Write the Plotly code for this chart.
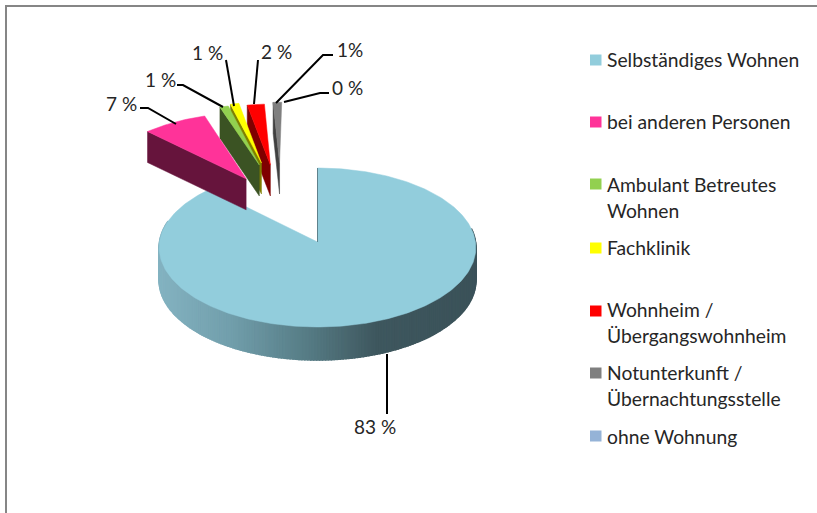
import math
import plotly.graph_objects as go

# ---- data ----
categories = ["Selbständiges Wohnen", "bei anderen Personen", "Ambulant Betreutes Wohnen",
              "Fachklinik", "Wohnheim / Übergangswohnheim",
              "Notunterkunft / Übernachtungsstelle", "ohne Wohnung"]
values = [83, 7, 1, 1, 2, 1, 0]
value_labels = ["83 %", "7 %", "1 %", "1 %", "2 %", "1%", "0 %"]

# ---- style ----
top_colors = ["#92CDDC", "#FF3399", "#92D050", "#FFFF00", "#FF0000", "#7F7F7F", "#95B3D7"]
wall_colors = ["#4F7A85", "#66143C", "#3B5323", "#7F7F00", "#7F0000", "#404040", "#505F75"]
TEXT = "#262626"
FONT = "Lato"

# ---- projection (perspective view of the unit disc, in pixels) ----
CX, CY = 317.5, 242
SX, SY, PERSP = 158, 79.1, 0.0692
DEPTH = 33
# how far each slice is pulled out of the disc (right, toward viewer), and its drawn radius
pull = [(0, 0), (-0.478, -0.845), (-0.395, -1.044), (-0.381, -1.073),
        (-0.32, -1.044), (-0.258, -1.073), (-0.25, -1.073)]
radius = [1, 1, 0.94, 0.94, 0.94, 0.94, 0.94]


def project(u, v):
    k = 1 - PERSP * v
    return CX + SX * u / k, CY + SY * v / k


def rim(a, p, r=1):
    t = math.radians(a)
    return project(p[0] + r * math.sin(t), p[1] - r * math.cos(t))


def lerp_color(x):
    stops = [(159, (0x84, 0xB3, 0xC1)), (230, (0x72, 0x9F, 0xAC)), (307, (0x56, 0x7C, 0x85)),
             (375, (0x3F, 0x58, 0x5F)), (476, (0x3B, 0x52, 0x59))]
    for (x0, c0), (x1, c1) in zip(stops, stops[1:]):
        if x <= x1:
            t = max(0, (x - x0) / (x1 - x0))
            return "rgb(%d,%d,%d)" % tuple(c0[i] + (c1[i] - c0[i]) * t for i in range(3))
    return "rgb(59,82,89)"


def poly(fig, pts, color, width=0.5):
    xs = [p[0] for p in pts] + [pts[0][0]]
    ys = [p[1] for p in pts] + [pts[0][1]]
    fig.add_trace(go.Scatter(x=xs, y=ys, mode="lines", fill="toself", fillcolor=color,
                             line=dict(color=color, width=width), hoverinfo="skip", showlegend=False))


total = sum(values)
spans = []
start = 0.0
for val in values:
    end = start + val / total * 360
    spans.append((start, end))
    start = end

fig = go.Figure()

# main slice: outer wall in thin gradient strips, then top face
a0, a1 = spans[0]
steps = int(a1 - a0)
arc = [a0 + (a1 - a0) * i / steps for i in range(steps + 1)]
for a, b in zip(arc, arc[1:]):
    if 80 <= a <= 285:
        pa, pb = rim(a, pull[0]), rim(b, pull[0])
        poly(fig, [pa, pb, (pb[0], pb[1] + DEPTH), (pa[0], pa[1] + DEPTH)],
             lerp_color((pa[0] + pb[0]) / 2), width=1.5)
apex = project(*pull[0])
poly(fig, [apex] + [rim(a, pull[0]) for a in arc], top_colors[0])
edge = rim(a0, pull[0])
fig.add_trace(go.Scatter(x=[edge[0], apex[0]], y=[edge[1], apex[1]], mode="lines",
                         line=dict(color="#5F828C", width=1), hoverinfo="skip", showlegend=False))

# exploded slices, back to front
for i in range(5, 0, -1):
    a0, a1 = spans[i]
    p = pull[i]
    apex = project(*p)
    left = rim(a0, p, radius[i])
    d = DEPTH - 2
    poly(fig, [apex, left, (left[0], left[1] + d), (apex[0], apex[1] + d)], wall_colors[i])
    n = max(2, int(a1 - a0) + 1)
    poly(fig, [apex] + [rim(a0 + (a1 - a0) * j / n, p, radius[i]) for j in range(n + 1)], top_colors[i])

# leader lines
leaders = [
    [(387, 354), (387, 414)],
    [(176, 124), (148, 108), (140, 108)],
    [(223, 107), (183, 85), (177, 85)],
    [(234, 106), (226, 60)],
    [(254, 104), (258, 60)],
    [(276, 103), (323, 55), (333, 55)],
    [(284, 102), (320, 93), (329, 93)],
]
for seg in leaders:
    fig.add_trace(go.Scatter(x=[s[0] for s in seg], y=[s[1] for s in seg], mode="lines",
                             line=dict(color="#000000", width=2), hoverinfo="skip", showlegend=False))

# legend swatches
swatch_y = [60, 122, 184, 248, 311, 373, 436]
for color, y in zip(top_colors, swatch_y):
    fig.add_shape(type="rect", x0=590, x1=601.5, y0=y - 5.5, y1=y + 5.5, fillcolor=color, line_width=0)

annotations = []


def text(x, y, s, size=19.3, anchor="left"):
    annotations.append(dict(x=x, y=y, text=s, showarrow=False, xanchor=anchor, yanchor="middle",
                            font=dict(family=FONT, size=size, color=TEXT)))


legend_lines = [
    [("Selbständiges Wohnen", 59)],
    [("bei anderen Personen", 121)],
    [("Ambulant Betreutes", 184), ("Wohnen", 210)],
    [("Fachklinik", 247)],
    [("Wohnheim /", 309), ("Übergangswohnheim", 335)],
    [("Notunterkunft /", 372), ("Übernachtungsstelle", 398)],
    [("ohne Wohnung", 436)],
]
for group in legend_lines:
    for s, y in group:
        text(605, y, s)

label_pos = [(375, 426), (121, 103), (160, 79), (207, 52), (276, 51), (350, 49), (347, 87)]
for s, (x, y) in zip(value_labels, label_pos):
    text(x, y, s, size=19, anchor="center")

# chart frame
fig.add_shape(type="line", x0=6, x1=817, y0=6, y1=6, line=dict(color="#868686", width=2))
fig.add_shape(type="line", x0=6, x1=6, y0=5, y1=513, line=dict(color="#868686", width=2))

fig.update_layout(
    width=817, height=513, margin=dict(l=0, r=0, t=0, b=0),
    paper_bgcolor="white", plot_bgcolor="white", showlegend=False,
    xaxis=dict(range=[0, 817], visible=False, fixedrange=True),
    yaxis=dict(range=[513, 0], visible=False, fixedrange=True),
    annotations=annotations,
)
fig.write_html("out.html", config={"displayModeBar": False},
               post_script="document.body.style.margin='0';document.body.style.overflow='hidden';")
